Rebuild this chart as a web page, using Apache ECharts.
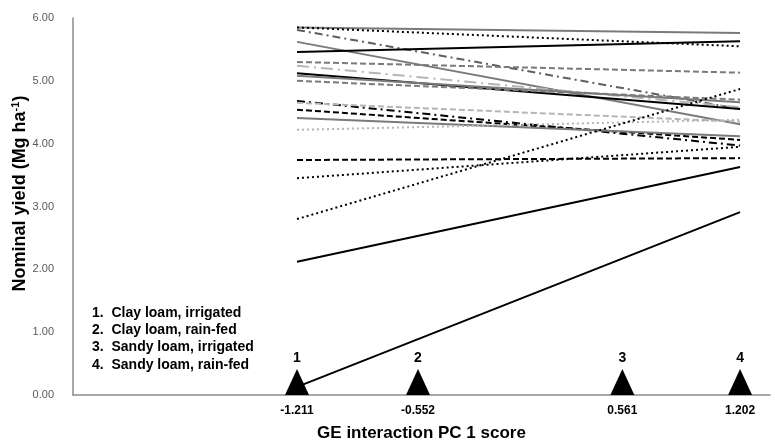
<!DOCTYPE html>
<html>
<head>
<meta charset="utf-8">
<script src="https://cdn.jsdelivr.net/npm/echarts@6/dist/echarts.min.js"></script>
<style>html,body{margin:0;padding:0;background:#fff}#c{width:775px;height:446px}</style>
</head>
<body>
<div id="c"></div>
<script>
// Environment PC1 scores (x positions) and labels
var envScores = [-1.211, -0.552, 0.561, 1.202];
var envNumbers = ['1', '2', '3', '4'];
var envNames = ['Clay loam, irrigated', 'Clay loam, rain-fed', 'Sandy loam, irrigated', 'Sandy loam, rain-fed'];
// Genotype yields at env 1 (x=-1.211) and env 4 (x=1.202)
var startYield = [5.85, 5.85, 5.81, 5.62, 5.46, 5.30, 5.24, 5.12, 5.08, 5.00, 4.68, 4.65, 4.54, 4.41, 4.22, 3.74, 3.45, 2.80, 2.12, 0.13];
var endYield   = [5.76, 5.55, 4.55, 4.31, 5.63, 5.13, 4.58, 4.55, 4.66, 4.70, 3.97, 4.35, 4.06, 4.12, 4.38, 3.77, 3.95, 4.87, 3.63, 2.91];
var yTicks = [0, 1, 2, 3, 4, 5, 6];

// Line styles (appearance only)
var BLACK = '#000000', GRAY = '#7a7a7a', DGRAY = '#5f5f5f', LGRAY = '#b5b5b5';
var DASH = [6, 3], DOT = [2, 3], DASHDOT = [8, 4, 2, 4], LDASHDOT = [12, 5, 2, 5];
var styles = [
  [GRAY, 'solid'], [BLACK, DOT], [DGRAY, DASHDOT], [GRAY, 'solid'], [BLACK, 'solid'],
  [GRAY, DASH], [LGRAY, LDASHDOT], [BLACK, 'solid'], [GRAY, 'solid'], [GRAY, DASH],
  [BLACK, DASHDOT], [LGRAY, DASH], [BLACK, DASH], [GRAY, 'solid'], [LGRAY, DOT],
  [BLACK, DASH], [BLACK, DOT], [BLACK, DOT], [BLACK, 'solid'], [BLACK, 'solid']
];

var series = [];
series.push({
  type: 'scatter',
  data: envScores.map(function (x, i) { return { value: [x, 0], label: { formatter: envNumbers[i] } }; }),
  symbol: 'triangle',
  symbolSize: [24, 26],
  symbolOffset: [0, -13],
  itemStyle: { color: '#000', opacity: 1 },
  label: { show: true, position: 'top', distance: 0, offset: [0, -4], color: '#000', fontWeight: 'bold', fontSize: 14, fontFamily: 'Liberation Sans, Arial' },
  z: 1, silent: true
});
for (var i = 0; i < startYield.length; i++) {
  series.push({
    type: 'line',
    data: [[envScores[0], startYield[i]], [envScores[3], endYield[i]]],
    symbol: 'none',
    lineStyle: { color: styles[i][0], type: styles[i][1], width: 2, cap: 'butt' },
    z: 2, silent: true
  });
}

var chart = echarts.init(document.getElementById('c'), null, { renderer: 'canvas' });
chart.setOption({
  animation: false,
  backgroundColor: '#fff',
  grid: { left: 73, right: 5, top: 18, bottom: 51, outerBoundsMode: 'none', containLabel: false },
  xAxis: {
    type: 'value', min: -2.431, max: 1.365,
    splitLine: { show: false },
    axisTick: { show: false },
    axisLine: { onZero: false, lineStyle: { color: '#8a8a8a', width: 1.5 } },
    axisLabel: {
      customValues: envScores,
      formatter: function (v) { return v.toFixed(3); },
      color: '#000', fontWeight: 'bold', fontSize: 12, fontFamily: 'Liberation Sans, Arial', margin: 10
    },
    name: 'GE interaction PC 1 score', nameLocation: 'middle', nameGap: 30, nameMoveOverlap: false,
    nameTextStyle: { color: '#000', fontWeight: 'bold', fontSize: 17, fontFamily: 'Liberation Sans, Arial' }
  },
  yAxis: {
    type: 'value', min: 0, max: 6, interval: 1,
    splitLine: { show: false },
    axisTick: { show: false },
    axisLine: { show: true, onZero: false, lineStyle: { color: '#8a8a8a', width: 1.5 } },
    axisLabel: {
      customValues: yTicks,
      formatter: function (v) { return v.toFixed(2); },
      color: '#595959', fontSize: 11, fontFamily: 'Liberation Sans, Arial', margin: 19
    },
    name: 'Nominal yield (Mg ha{sup|-1})', nameLocation: 'middle', nameGap: 43, nameMoveOverlap: false,
    nameTextStyle: {
      color: '#000', fontWeight: 'bold', fontSize: 18, fontFamily: 'Liberation Sans, Arial',
      padding: [0, 0, 0, 26],
      rich: { sup: { fontSize: 11, fontWeight: 'bold', color: '#000', verticalAlign: 'top', padding: [0, 0, 9, 0], fontFamily: 'Liberation Sans, Arial' } }
    }
  },
  graphic: envNames.map(function (n, i) {
    return {
      type: 'text', left: 92, top: 306 + i * 17.3,
      style: { text: (i + 1) + '.  ' + n, fill: '#000', font: 'bold 14px "Liberation Sans", Arial' }
    };
  }),
  series: series
});
</script>
</body>
</html>
